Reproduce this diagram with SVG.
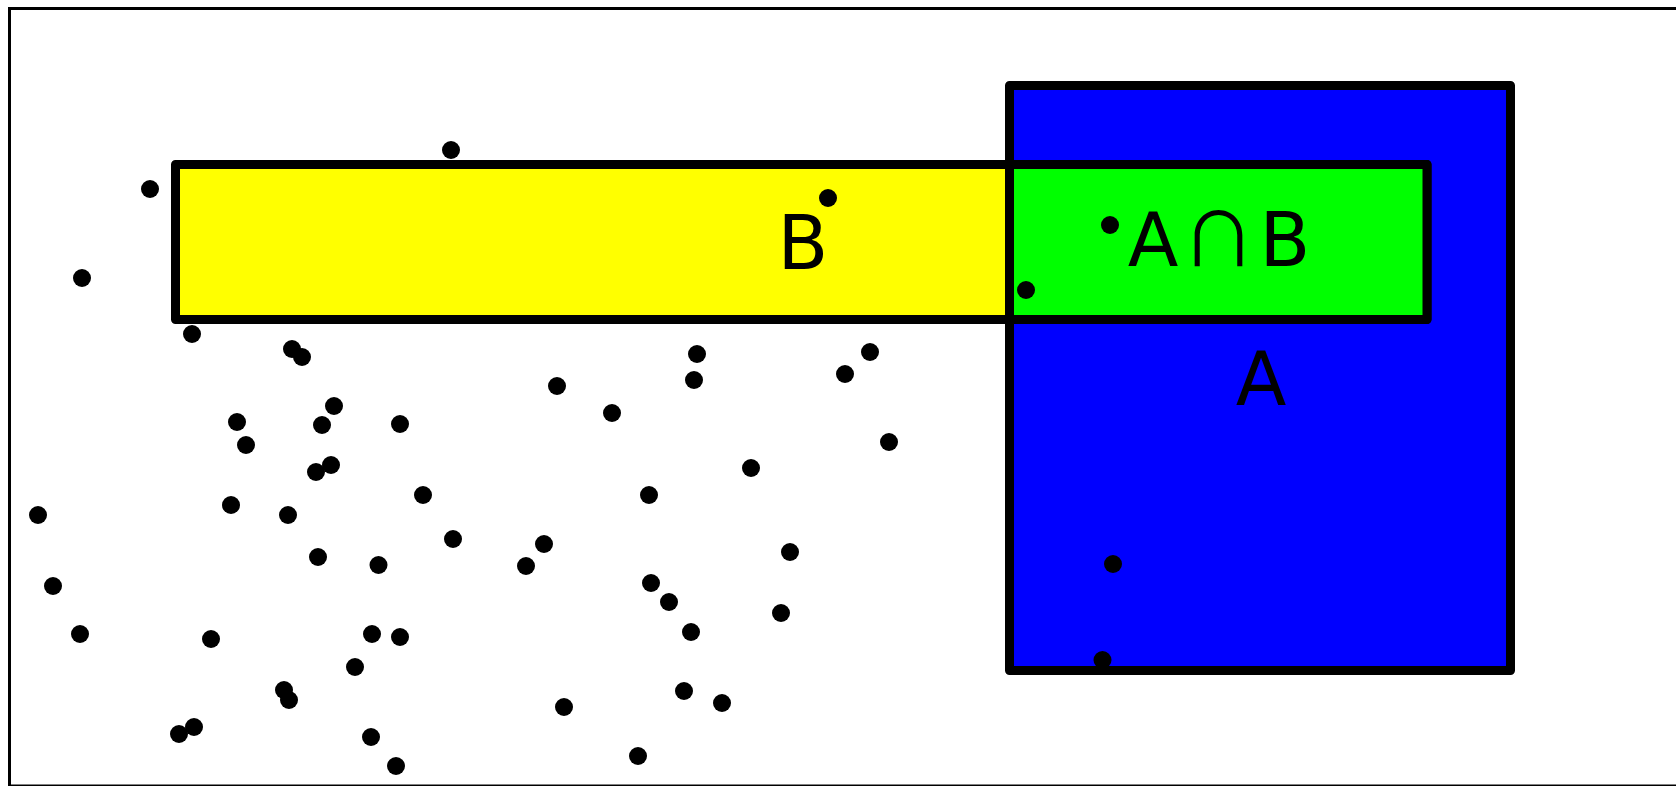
<svg xmlns="http://www.w3.org/2000/svg" width="1676" height="786" viewBox="0 0 1676 786">
<style>
.set{stroke:#000;stroke-width:9;stroke-linejoin:round}
.lbl{font-family:"DejaVu Sans",Verdana,sans-serif;font-size:74px;fill:#000;text-anchor:middle}
.cap{font-family:"Noto Sans CJK JP","Noto Sans CJK SC",sans-serif}
.pt{fill:#000}
</style>
<rect x="0" y="0" width="1676" height="786" fill="#fff"/>
<rect id="frame" x="9.5" y="8.5" width="1700" height="777.5" fill="none" stroke="#000" stroke-width="3"/>
<g id="setA"><rect class="set" x="1009.5" y="85.5" width="501" height="585" fill="#0000ff"/></g>
<g id="setB"><rect class="set" x="175.5" y="164.5" width="1251.5" height="155" fill="#ffff00"/></g>
<g id="intersection"><rect class="set" x="1009.5" y="164.5" width="417.5" height="155" fill="#00ff00"/></g>
<g id="connectors"></g>
<g id="labels">
<text class="lbl" x="803" y="269">B</text>
<text class="lbl" x="1219" y="266">A<tspan class="cap" dx="3">∩</tspan><tspan dx="4">B</tspan></text>
<text class="lbl" x="1261" y="405">A</text>
</g>
<g id="points" class="pt">
<circle cx="451" cy="150" r="9"/>
<circle cx="150" cy="189" r="9"/>
<circle cx="828" cy="198" r="9"/>
<circle cx="1110" cy="225" r="9"/>
<circle cx="82" cy="278" r="9"/>
<circle cx="1026" cy="290" r="9"/>
<circle cx="192" cy="334" r="9"/>
<circle cx="292" cy="349" r="9"/>
<circle cx="302" cy="357" r="9"/>
<circle cx="697" cy="354" r="9"/>
<circle cx="694" cy="380" r="9"/>
<circle cx="870" cy="352" r="9"/>
<circle cx="845" cy="374" r="9"/>
<circle cx="557" cy="386" r="9"/>
<circle cx="612" cy="413" r="9"/>
<circle cx="334" cy="406" r="9"/>
<circle cx="237" cy="422" r="9"/>
<circle cx="322" cy="425" r="9"/>
<circle cx="400" cy="424" r="9"/>
<circle cx="246" cy="445" r="9"/>
<circle cx="889" cy="442" r="9"/>
<circle cx="751" cy="468" r="9"/>
<circle cx="331" cy="465" r="9"/>
<circle cx="316" cy="472" r="9"/>
<circle cx="423" cy="495" r="9"/>
<circle cx="649" cy="495" r="9"/>
<circle cx="38" cy="515" r="9"/>
<circle cx="231" cy="505" r="9"/>
<circle cx="288" cy="515" r="9"/>
<circle cx="453" cy="539" r="9"/>
<circle cx="544" cy="544" r="9"/>
<circle cx="790" cy="552" r="9"/>
<circle cx="318" cy="557" r="9"/>
<circle cx="378.5" cy="565" r="9"/>
<circle cx="526" cy="566" r="9"/>
<circle cx="1113" cy="564" r="9"/>
<circle cx="53" cy="586" r="9"/>
<circle cx="651" cy="583" r="9"/>
<circle cx="669" cy="602" r="9"/>
<circle cx="781" cy="613" r="9"/>
<circle cx="691" cy="632" r="9"/>
<circle cx="80" cy="634" r="9"/>
<circle cx="211" cy="639" r="9"/>
<circle cx="372" cy="634" r="9"/>
<circle cx="400" cy="637" r="9"/>
<circle cx="355" cy="667" r="9"/>
<circle cx="1102.5" cy="660" r="9"/>
<circle cx="284" cy="690" r="9"/>
<circle cx="289" cy="700" r="9"/>
<circle cx="684" cy="691" r="9"/>
<circle cx="722" cy="703" r="9"/>
<circle cx="564" cy="707" r="9"/>
<circle cx="179" cy="734" r="9"/>
<circle cx="194" cy="727" r="9"/>
<circle cx="371" cy="737" r="9"/>
<circle cx="638" cy="756" r="9"/>
<circle cx="396" cy="766" r="9"/>
</g>
</svg>
